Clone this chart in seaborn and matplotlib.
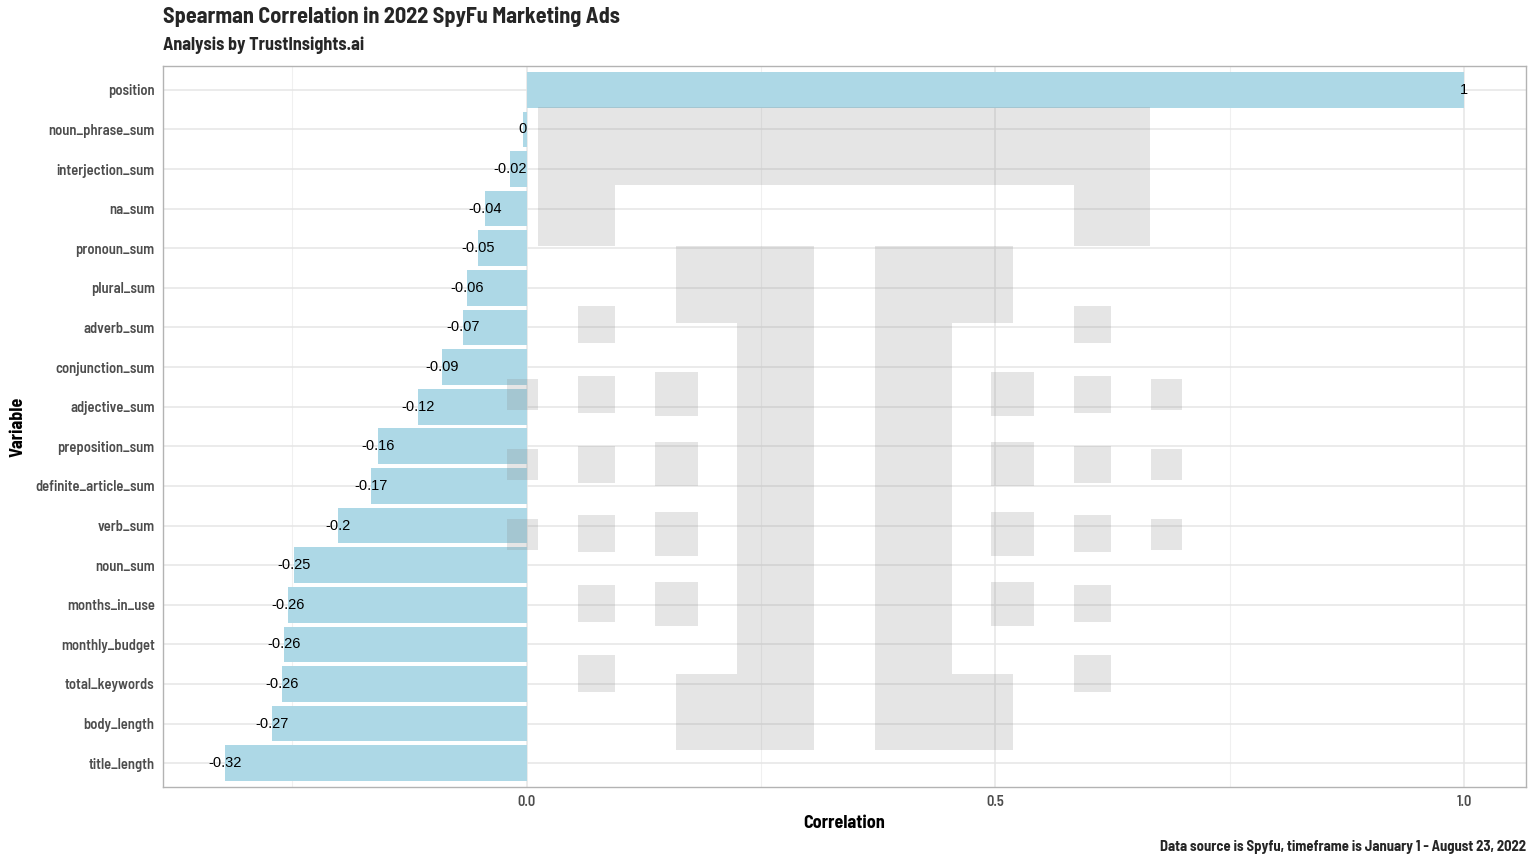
import matplotlib
matplotlib.use("Agg")
import matplotlib.pyplot as plt
import matplotlib.font_manager as fm
from matplotlib.patches import Rectangle
import seaborn as sns

# Data (top to bottom)
variables = [
    "position", "noun_phrase_sum", "interjection_sum", "na_sum", "pronoun_sum",
    "plural_sum", "adverb_sum", "conjunction_sum", "adjective_sum",
    "preposition_sum", "definite_article_sum", "verb_sum", "noun_sum",
    "months_in_use", "monthly_budget", "total_keywords", "body_length",
    "title_length",
]
correlations = [
    1.0, -0.004, -0.018, -0.044, -0.052, -0.064, -0.068, -0.090, -0.116,
    -0.159, -0.166, -0.201, -0.248, -0.255, -0.259, -0.261, -0.272, -0.322,
]
value_labels = [
    "1", "0", "-0.02", "-0.04", "-0.05", "-0.06", "-0.07", "-0.09", "-0.12",
    "-0.16", "-0.17", "-0.2", "-0.25", "-0.26", "-0.26", "-0.26", "-0.27", "-0.32",
]

W, H = 1536, 864

sns.set_style("whitegrid")

# pick a condensed font if one is installed
installed = {f.name for f in fm.fontManager.ttflist}
font = "DejaVu Sans"
for cand in ["Barlow Semi Condensed", "Roboto Condensed", "Liberation Sans Narrow",
             "Open Sans Condensed"]:
    if cand in installed:
        font = cand
        break
plt.rcParams["font.family"] = [font, "DejaVu Sans"]
stretch = "condensed" if font == "DejaVu Sans" else "normal"

fig = plt.figure(figsize=(W / 100, H / 100), dpi=100)
ax = fig.add_axes([163 / W, 1 - 787 / H, (1526 - 163) / W, (787 - 66) / H])

sns.barplot(x=correlations, y=variables, orient="h", color="#ADD8E6",
            saturation=1, width=0.9, ax=ax, zorder=2, edgecolor="none")

ax.set_xlim(-0.388, 1.066)
ax.set_ylim(len(variables) - 0.4, -0.6)
ax.set_xticks([0, 0.5, 1.0])
ax.set_xticklabels(["0.0", "0.5", "1.0"])
ax.set_xticks([-0.25, 0.25, 0.75], minor=True)
ax.set_axisbelow(True)
ax.grid(which="major", color="#E5E5E5", lw=1.1)
ax.grid(which="minor", axis="x", color="#F0F0F0", lw=0.8)
for s in ax.spines.values():
    s.set_color("#B3B3B3")
    s.set_linewidth(1.0)
ax.tick_params(axis="both", which="major", length=4, width=0.8, color="#B3B3B3",
               labelcolor="#4D4D4D", labelsize=10.5, pad=2)
ax.tick_params(axis="x", which="minor", length=0)
for lab in ax.get_yticklabels() + ax.get_xticklabels():
    lab.set_fontweight("semibold")
    lab.set_fontstretch(stretch)

# value labels at the bar ends
for i, (v, t) in enumerate(zip(correlations, value_labels)):
    ax.text(v, i, t, ha="center", va="center", fontsize=10.5,
            family="Liberation Sans", color="black", zorder=5)

# faint logo watermark (figure pixel boxes: x0, y0, x1, y1)
logo_boxes = [
    (538, 107, 1150, 185), (538, 185, 615, 246), (1074, 185, 1150, 246),
    (676, 246, 814, 323), (737, 323, 814, 674), (676, 674, 814, 750),
    (875, 246, 1013, 323), (875, 323, 952, 674), (875, 674, 1013, 750),
]
for y0 in [306, 376, 446, 515, 585, 655]:
    logo_boxes.append((578, y0, 615, y0 + 37))
    logo_boxes.append((1074, y0, 1111, y0 + 37))
for y0 in [372, 442, 512, 582]:
    logo_boxes.append((655, y0, 698, y0 + 44))
    logo_boxes.append((991, y0, 1034, y0 + 44))
for y0 in [379, 449, 519]:
    logo_boxes.append((507, y0, 538, y0 + 31))
    logo_boxes.append((1151, y0, 1182, y0 + 31))
for x0, y0, x1, y1 in logo_boxes:
    ax.add_patch(Rectangle((x0 / W, 1 - y1 / H), (x1 - x0) / W, (y1 - y0) / H,
                           transform=fig.transFigure, clip_on=False,
                           facecolor=(0.5, 0.5, 0.5, 0.2), edgecolor="none",
                           zorder=3))

ax.set_xlabel("Correlation", fontsize=13, fontweight="bold", color="black",
              fontstretch=stretch, labelpad=4)
ax.set_ylabel("Variable", fontsize=13, fontweight="bold", color="black",
              fontstretch=stretch, labelpad=6)

fig.text(163 / W, 1 - 17 / H, "Spearman Correlation in 2022 SpyFu Marketing Ads",
         fontsize=16, fontweight="bold", va="center", ha="left", fontstretch=stretch)
fig.text(163 / W, 1 - 45 / H, "Analysis by TrustInsights.ai",
         fontsize=13, fontweight="bold", va="center", ha="left", fontstretch=stretch)
fig.text(1526 / W, 1 - 847 / H,
         "Data source is Spyfu, timeframe is January 1 - August 23, 2022",
         fontsize=10.5, fontweight="bold", va="center", ha="right", fontstretch=stretch)

fig.savefig("out.png", dpi=100)
